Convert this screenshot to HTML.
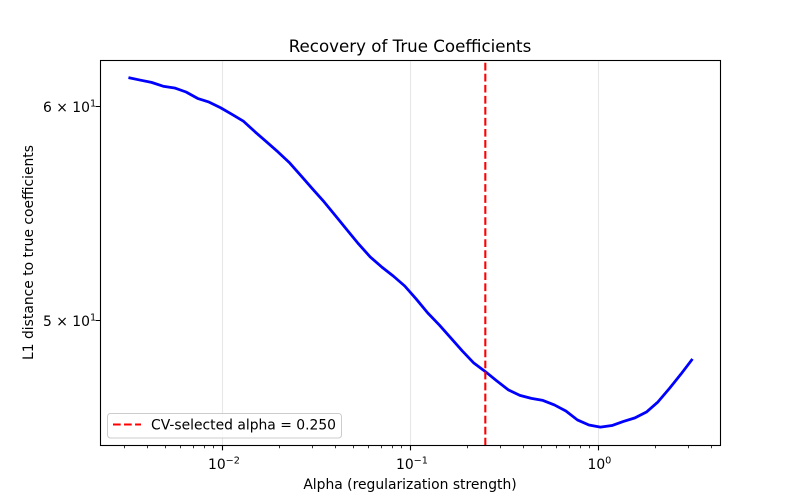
<!DOCTYPE html>
<html>
<head>
<meta charset="utf-8">
<title>Recovery of True Coefficients</title>
<style>
html,body{margin:0;padding:0;background:#fff;}
svg{display:block;}
text{font-family:"DejaVu Sans","Liberation Sans",sans-serif;fill:#000;}
</style>
</head>
<body>
<svg id="chart" xmlns="http://www.w3.org/2000/svg" width="800" height="500" viewBox="0 0 800 500">
  <rect x="0" y="0" width="800" height="500" fill="#fff"/>
  <g id="grid"></g>
  <g id="series"></g>
  <g id="ticks"></g>
  <rect x="100.5" y="60.5" width="620" height="385" fill="none" stroke="#000" stroke-width="1.1"/>
  <text x="410" y="52" font-size="16.67" text-anchor="middle">Recovery of True Coefficients</text>
  <text x="410" y="489" font-size="13.89" text-anchor="middle">Alpha (regularization strength)</text>
  <text transform="translate(33 252.5) rotate(-90)" font-size="13.89" text-anchor="middle">L1 distance to true coefficients</text>
  <g>
    <rect x="107.5" y="413.5" width="234" height="24.5" rx="3" ry="3" fill="#fff" fill-opacity="0.8" stroke="#ccc" stroke-width="1"/>
    <line x1="113" y1="424.5" x2="141" y2="424.5" stroke="#f00" stroke-width="2.08" stroke-dasharray="7.7 3.33"/>
    <text x="151" y="429.3" font-size="13.89">CV-selected alpha = 0.250</text>
  </g>
</svg>
<script>
const alphas = [0.00316,0.00364,0.00419,0.00483,0.00556,0.0064,0.00737,0.00848,0.00977,0.01125,
0.01295,0.01491,0.01717,0.01977,0.02276,0.02621,0.03017,0.03474,0.04,0.04605,
0.05302,0.06105,0.07029,0.08094,0.09319,0.1073,0.12355,0.14225,0.16379,0.18859,
0.21715,0.25,0.2879,0.3315,0.3817,0.4394,0.506,0.5826,0.6708,0.7724,
0.8893,1.0235,1.179,1.357,1.563,1.799,2.072,2.385,2.746,3.162];
const distances = [61.47,61.34,61.22,61.02,60.93,60.72,60.39,60.2,59.91,59.57,
59.22,58.69,58.19,57.69,57.16,56.53,55.9,55.29,54.63,53.98,
53.34,52.76,52.31,51.91,51.47,50.9,50.3,49.79,49.24,48.7,
48.2,47.85,47.47,47.11,46.89,46.77,46.69,46.51,46.27,45.92,
45.72,45.64,45.7,45.86,46,46.23,46.63,47.17,47.75,48.37];
const selectedAlpha = [0.25];
const xMajorExponents = [-2,-1,0];
const xMinorDecades = [-3,-2,-1,0];
const xMinorMultipliers = [2,3,4,5,6,7,8,9];
const yTickMantissas = [6,5];

const NS = 'http://www.w3.org/2000/svg';
const plotLeft = 100.5, plotRight = 720.5, plotTop = 60.5, plotBottom = 445.5;
function xScale(a){ return 598.5 + 188 * Math.log10(a); }
function yScale(v){ return 106 - 2702.7 * Math.log10(v / 60); }
function make(tag, attrs, parent){
  const el = document.createElementNS(NS, tag);
  for (const k in attrs) el.setAttribute(k, attrs[k]);
  parent.appendChild(el);
  return el;
}
const grid = document.getElementById('grid');
const ticks = document.getElementById('ticks');
const series = document.getElementById('series');

xMajorExponents.forEach(function(e){
  const x = Math.round(xScale(Math.pow(10, e)) - 0.5) + 0.5;
  const g = make('line', {x1:x, x2:x, y1:plotTop, y2:plotBottom, stroke:'#b0b0b0', 'stroke-opacity':0.3, 'stroke-width':1.1}, grid);
  
  
  const t = make('line', {x1:x, x2:x, y1:plotBottom, y2:plotBottom + 4.86, stroke:'#000', 'stroke-width':1.1}, ticks);
  
  
  const label = make('text', {y:469, 'font-size':13.89}, ticks);
  
  
  const supText = e < 0 ? '\u2212' + Math.abs(e) : String(e);
  const base = make('tspan', {x: e < 0 ? x - 14.5 : x - 11}, label);
  base.textContent = '10';
  const sup = make('tspan', {dy:-5.7, 'font-size':9.7}, label);
  sup.textContent = supText;
});

xMinorDecades.forEach(function(d){
  xMinorMultipliers.forEach(function(m){
    const x = xScale(m * Math.pow(10, d));
    if (x < plotLeft || x > plotRight) return;
    const px = Math.round(x - 0.5) + 0.5;
    const t = make('line', {x1:px, x2:px, y1:plotBottom, y2:plotBottom + 2.78, stroke:'#000', 'stroke-width':0.8}, ticks);
    
    
  });
});

yTickMantissas.forEach(function(m){
  const y = Math.round(yScale(m * 10) - 0.5) + 0.5;
  const t = make('line', {x1:plotLeft - 4.86, x2:plotLeft, y1:y, y2:y, stroke:'#000', 'stroke-width':1}, ticks);
  
  
  const label = make('text', {y:y + 5.5, 'font-size':13.89}, ticks);
  
  
  const base = make('tspan', {x:43}, label);
  base.textContent = m + ' \u00D7 10';
  const sup = make('tspan', {dy:-5.7, 'font-size':9.7}, label);
  sup.textContent = '1';
});

const linePoints = alphas.map(function(a, i){
  return xScale(a).toFixed(2) + ',' + yScale(distances[i]).toFixed(2);
}).join(' ');
const curve = make('polyline', {points:linePoints, fill:'none', stroke:'#00f', 'stroke-width':2.78, 'stroke-linejoin':'round', 'stroke-linecap':'butt'}, series);



selectedAlpha.forEach(function(a){
  const x = xScale(a);
  const v = make('line', {x1:x, x2:x, y1:plotBottom, y2:plotTop, stroke:'#f00', 'stroke-width':2.08, 'stroke-dasharray':'7.7 3.33'}, series);
  
  
});
</script>
</body>
</html>
